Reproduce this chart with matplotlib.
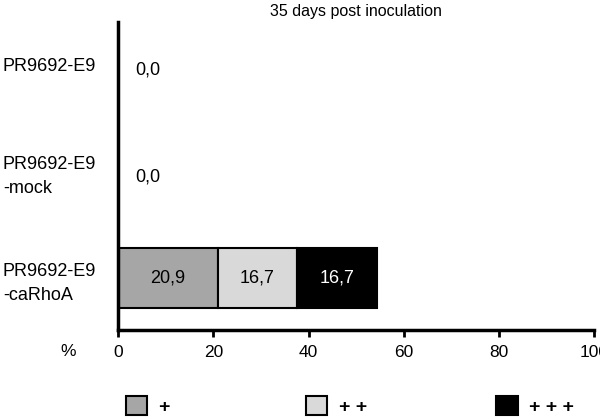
import matplotlib.pyplot as plt
import numpy as np

plt.rcParams['font.family'] = ['Liberation Sans', 'DejaVu Sans']

# data (rows from bottom to top)
groups = ['PR9692-E9\n-caRhoA', 'PR9692-E9\n-mock', 'PR9692-E9']
grade1 = [20.9, 0.0, 0.0]   # +
grade2 = [16.7, 0.0, 0.0]   # ++
grade3 = [16.7, 0.0, 0.0]   # +++
grade_labels = ['+', '+ +', '+ + +']
colors = ['#a6a6a6', '#d9d9d9', '#000000']
text_colors = ['black', 'black', 'white']
xticks = [0, 20, 40, 60, 80, 100]

fig = plt.figure(figsize=(6, 4.19), dpi=100)
ax = fig.add_axes([0.197, 0.2124, 0.793, 0.735])

y = np.arange(len(groups))
left = np.zeros(len(groups))
bars = []
for vals, c, tc in zip([grade1, grade2, grade3], colors, text_colors):
    vals = np.array(vals)
    b = ax.barh(y, vals, left=left, height=0.56, color=c, edgecolor='black', linewidth=1.5)
    bars.append(b)
    for yi, l, v in zip(y, left, vals):
        if v > 0:
            ax.text(l + v / 2, yi, f'{v:.1f}'.replace('.', ','), ha='center', va='center',
                    fontsize=13, color=tc)
    left = left + vals

# zero totals shown as text
totals = np.array(grade1) + np.array(grade2) + np.array(grade3)
for yi, t in zip(y, totals):
    if t == 0:
        ax.text(6.3, yi - 0.05, f'{t:.1f}'.replace('.', ','), ha='center', va='center', fontsize=13)

ax.set_xlim(0, 100)
ax.set_ylim(-0.49, 2.40)
ax.set_xticks(xticks)
ax.set_xticklabels([str(t) for t in xticks], fontsize=12.5)
ax.set_yticks(y)
ax.set_yticklabels(groups, fontsize=13, ha='left', linespacing=1.55)
ax.tick_params(axis='y', length=0, pad=83)
ax.tick_params(axis='x', length=5, width=2, pad=6)
for s in ['top', 'right']:
    ax.spines[s].set_visible(False)
ax.spines['left'].set_linewidth(2.5)
ax.spines['bottom'].set_linewidth(2.5)

ax.set_title('35 days post inoculation', fontsize=11.5, pad=4)
fig.text(0.113, 0.16, '%', fontsize=12.5, ha='center', va='center')

xpos = [0.18, 0.48, 0.798]
for b, lab, xp in zip(bars, grade_labels, xpos):
    fig.legend([b], [lab], loc='center left', bbox_to_anchor=(xp, 0.03), frameon=False,
               handlelength=1.1, handleheight=1.1, handletextpad=0.6,
               prop={'size': 14, 'weight': 'bold'})

fig.savefig('out.png', dpi=100)
